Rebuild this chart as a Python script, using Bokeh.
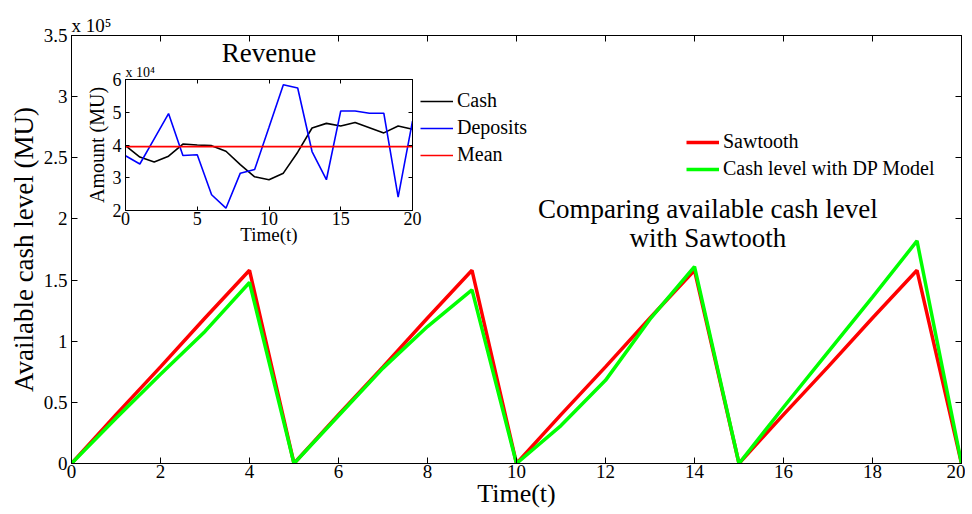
from bokeh.plotting import figure
from bokeh.models import (Range1d, FixedTicker, CustomJSTickFormatter, LinearAxis,
                          Label, Legend, LegendItem, ColumnDataSource, Title)
from bokeh.embed import file_html
from bokeh.resources import INLINE

FONT = "Liberation Serif"
NAN = float("nan")

# ---------------- data ----------------
t = [0, 1, 2, 3, 4, 5, 6, 7, 8, 9, 10, 11, 12, 13, 14, 15, 16, 17, 18, 19, 20]
sawtooth = [0, 40000, 79000, 119000, 158000, 0, 40000, 79000, 119000, 158000, 0,
            40000, 79000, 119000, 158000, 0, 40000, 79000, 119000, 158000, 0]
dp_cash = [0, 37000, 73000, 108000, 148000, 0, 39000, 78000, 112000, 142000, 0,
           31000, 68000, 118000, 161000, 0, 46000, 91000, 136000, 182000, 0]

rev_cash = [39800, 36300, 34800, 36600, 40300, 40000, 39800, 38100, 34000, 30300, 29400,
            31400, 37800, 45200, 46600, 45800, 46900, 45300, 43700, 45800, 44800]
rev_deposits = [36700, 34200, 41900, 49600, 36800, 37000, 24800, 20700, 31400, 32500, 45400,
                58400, 57400, 38000, 29400, 50400, 50400, 49700, 49700, 24100, 47300]
mean_t = [0, 20]
mean_v = [39500, 39500]

main_xticks = [0, 2, 4, 6, 8, 10, 12, 14, 16, 18, 20]
main_yticks = [0, 50000, 100000, 150000, 200000, 250000, 300000, 350000]
inset_xticks = [0, 5, 10, 15, 20]
inset_yticks = [20000, 30000, 40000, 50000, 60000]


def style_axis(ax, size, tick_in):
    ax.major_tick_in = tick_in
    ax.major_tick_out = 0
    ax.minor_tick_in = 0
    ax.minor_tick_out = 0
    ax.axis_line_color = "black"
    ax.major_tick_line_color = "black"
    ax.major_label_text_font = FONT
    ax.major_label_text_font_size = size
    ax.major_label_text_color = "black"
    ax.axis_label_text_font = FONT
    ax.axis_label_text_font_style = "normal"
    ax.axis_label_text_color = "black"


def blank_axis(ticker, tick_in):
    return LinearAxis(ticker=ticker, major_tick_in=tick_in, major_tick_out=0,
                      minor_tick_in=0, minor_tick_out=0,
                      major_label_text_font_size="0px", major_label_standoff=0,
                      axis_label_standoff=0,
                      axis_line_color="black", major_tick_line_color="black")


def make_legend(items, location):
    return Legend(items=items, location=location, orientation="vertical",
                  padding=0, margin=0, spacing=4,
                  glyph_width=33, glyph_height=20, label_height=20, label_standoff=4,
                  label_text_font=FONT, label_text_font_size="20px", label_text_color="black",
                  border_line_alpha=0, background_fill_alpha=0)


# ---------------- main figure ----------------
p = figure(width=960, height=506, output_backend="svg", toolbar_location=None,
           x_range=Range1d(0, 20), y_range=Range1d(0, 350000),
           min_border_left=64, min_border_right=4, min_border_top=27, min_border_bottom=51,
           background_fill_color="white", border_fill_color="white")
p.grid.visible = False
p.outline_line_color = "black"

xa = p.xaxis[0]
ya = p.yaxis[0]
style_axis(xa, "19px", 6)
style_axis(ya, "19px", 6)
xa.ticker = FixedTicker(ticks=main_xticks)
ya.ticker = FixedTicker(ticks=main_yticks)
ya.formatter = CustomJSTickFormatter(code="return String(Math.round(tick / 1e5 * 10) / 10);")
xa.major_label_standoff = 1
ya.major_label_standoff = 4
xa.axis_label = "Time(t)"
xa.axis_label_text_font_size = "26px"
xa.axis_label_standoff = -2
ya.axis_label = "Available cash level (MU)"
ya.axis_label_text_font_size = "27px"
ya.axis_label_standoff = 2

p.add_layout(blank_axis(FixedTicker(ticks=main_xticks), 6), "above")
p.add_layout(blank_axis(FixedTicker(ticks=main_yticks), 6), "right")
p.add_layout(Title(text="x 10\u2075", align="left", text_font=FONT, text_font_size="19px",
                   text_font_style="normal", text_color="black", standoff=0), "above")

src = ColumnDataSource(dict(t=t, sawtooth=sawtooth, dp=dp_cash))
r_saw = p.line("t", "sawtooth", source=src, line_color="#ff0000", line_width=3.5)
r_dp = p.line("t", "dp", source=src, line_color="#00ff00", line_width=3.5)

p.add_layout(make_legend([LegendItem(label="Sawtooth", renderers=[r_saw]),
                          LegendItem(label="Cash level with DP Model", renderers=[r_dp])],
                         (615, 283)))

p.add_layout(Label(x=14.3, y=220000, text="Comparing available cash level\nwith Sawtooth",
                   text_font=FONT, text_font_size="27px", text_align="center",
                   text_baseline="top", text_line_height=0.96, text_color="black"))

# legend keys of the inset (drawn beside the inset box, so hosted by the main canvas;
# the key renderers hold no drawable points)
k_cash = p.line(x=[NAN], y=[NAN], line_color="black", line_width=1.6)
k_dep = p.line(x=[NAN], y=[NAN], line_color="#0000ff", line_width=1.6)
k_mean = p.line(x=[NAN], y=[NAN], line_color="#ff0000", line_width=1.6)
p.add_layout(make_legend([LegendItem(label="Cash", renderers=[k_cash]),
                          LegendItem(label="Deposits", renderers=[k_dep]),
                          LegendItem(label="Mean", renderers=[k_mean])],
                         (349, 297)))

# ---------------- inset figure ----------------
q = figure(width=342, height=214, output_backend="svg", toolbar_location=None,
           x_range=Range1d(0, 20), y_range=Range1d(20000, 60000),
           min_border_left=37, min_border_right=12, min_border_top=43, min_border_bottom=40,
           background_fill_color="white", border_fill_alpha=0)
q.grid.visible = False
q.outline_line_color = "black"
qx = q.xaxis[0]
qy = q.yaxis[0]
style_axis(qx, "18px", 4)
style_axis(qy, "18px", 4)
qx.ticker = FixedTicker(ticks=inset_xticks)
qy.ticker = FixedTicker(ticks=inset_yticks)
qy.formatter = CustomJSTickFormatter(code="return String(Math.round(tick / 1e4));")
qx.major_label_standoff = 1
qy.major_label_standoff = 4
qx.axis_label = "Time(t)"
qx.axis_label_text_font_size = "19px"
qx.axis_label_standoff = -4
qy.axis_label = "Amount (MU)"
qy.axis_label_text_font_size = "20px"
qy.axis_label_standoff = 2
q.add_layout(blank_axis(FixedTicker(ticks=inset_xticks), 4), "above")
q.add_layout(blank_axis(FixedTicker(ticks=inset_yticks), 4), "right")
q.add_layout(Title(text="x 10\u2074", align="left", text_font=FONT, text_font_size="14px",
                   text_font_style="normal", text_color="black", standoff=0), "above")
q.add_layout(Title(text="Revenue", align="center", text_font=FONT, text_font_size="27px",
                   text_font_style="normal", text_color="black", standoff=-11), "above")

isrc = ColumnDataSource(dict(t=t, cash=rev_cash, dep=rev_deposits))
msrc = ColumnDataSource(dict(t=mean_t, v=mean_v))
q.line("t", "cash", source=isrc, line_color="black", line_width=1.6)
q.line("t", "dep", source=isrc, line_color="#0000ff", line_width=1.6)
q.line("t", "v", source=msrc, line_color="#ff0000", line_width=1.6)

p.styles = {"position": "absolute", "left": "5px", "top": "8px"}
q.styles = {"position": "absolute", "left": "82px", "top": "36px", "z-index": "2"}

open("out.html", "w").write(file_html([p, q], INLINE))
